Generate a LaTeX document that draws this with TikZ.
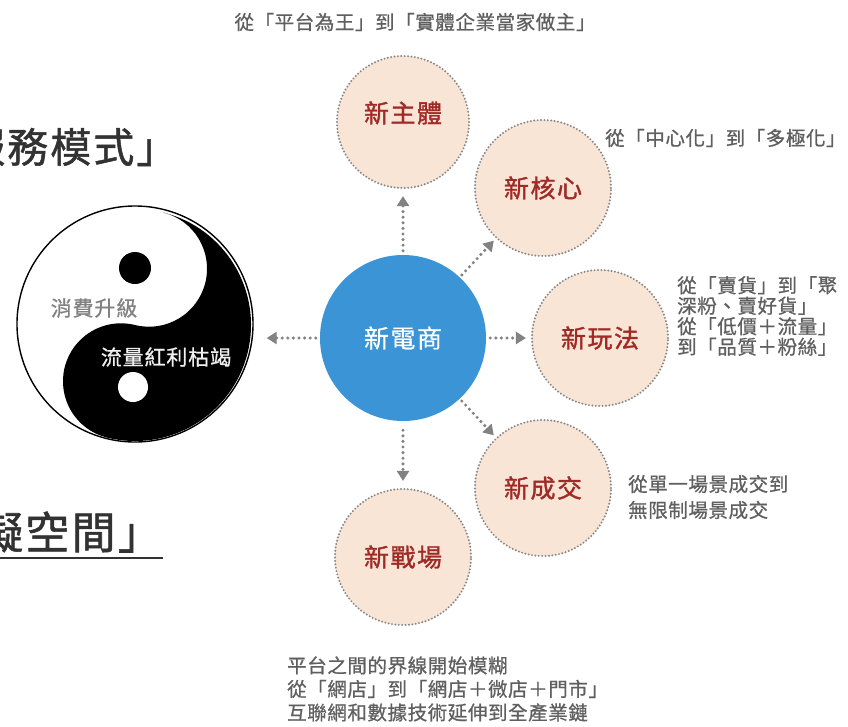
\documentclass[tikz,border=0pt]{standalone}
\usepackage{fontspec}
\usetikzlibrary{arrows.meta}
\newfontfamily\cjk[LetterSpace=3,FakeBold=0.8]{Noto Sans CJK TC}
\newfontfamily\cjkbig[LetterSpace=5,FakeBold=1.2]{Noto Sans CJK TC}
\newfontfamily\cjklab[LetterSpace=6,FakeBold=1.4]{Noto Sans CJK TC}
\newfontfamily\cjkhub[LetterSpace=6,FakeBold=0.6]{Noto Sans CJK TC}
\newfontfamily\cjkyy[LetterSpace=4,FakeBold=0.8]{Noto Sans CJK TC}
\definecolor{peach}{RGB}{249,229,214}
\definecolor{blueC}{RGB}{58,148,214}
\definecolor{dotgray}{RGB}{135,135,135}
\definecolor{arrgray}{RGB}{130,130,130}
\definecolor{labred}{RGB}{160,42,38}
\definecolor{txtgray}{RGB}{95,95,95}
\definecolor{bigtxt}{RGB}{50,50,50}
\definecolor{yygray}{RGB}{130,130,130}
\begin{document}
\begin{tikzpicture}[x=1pt,y=1pt,
  bubble/.style={circle, fill=peach, draw=dotgray, line width=2.2pt,
    dash pattern=on 0pt off 3.4pt, line cap=round, minimum size=136pt,
    inner sep=0pt, text=labred, font={\cjklab\fontsize{25}{28}\selectfont}},
  hub/.style={circle, fill=blueC, minimum size=166pt, inner sep=0pt,
    text=white, font={\cjkhub\fontsize{25}{28}\selectfont}},
  arr/.style={draw=arrgray, line width=3.4pt, dash pattern=on 0pt off 5.6pt,
    line cap=round, -{Triangle[length=10pt,width=12pt]}},
  desc/.style={text=txtgray, align=left, inner sep=0pt,
    font={\cjk\fontsize{19.5}{20.5}\selectfont}},
  bigtext/.style={text=bigtxt, inner sep=0pt, anchor=west},
  yytext/.style={inner sep=0pt, font={\cjkyy\fontsize{21}{24}\selectfont}}
]
\path[use as bounding box, fill=white] (0,0) rectangle (848,-726);

% yin-yang
\begin{scope}[shift={(135,-325)}, rotate=-14]
  \fill[black] (0,116) arc[start angle=90,end angle=-90,radius=116]
    arc[start angle=-90,end angle=-270,radius=58]
    arc[start angle=-90,end angle=90,radius=58] -- cycle;
\end{scope}
\node[circle, draw=black, line width=1.4pt, minimum size=236pt, inner sep=0pt] (yy) at (135,-324) {};
\fill[black] (135,-268) circle[radius=16];
\fill[white] (133,-387) circle[radius=15];
\node[yytext, text=yygray] (xf) at (94,-308) {消費升級};
\node[yytext, text=white!94!black] (ll) at (166,-357) {流量紅利枯竭};

% big left texts
\node[bigtext, font={\cjkbig\fontsize{41}{46}\selectfont}] (fw) at (-36,-147) {服務模式」};
\node[bigtext, font={\cjkbig\fontsize{44}{50}\selectfont}] (kj) at (-21,-532) {擬空間」};
\draw[draw=bigtxt, line width=2pt] (0,-558) -- (163,-558);

% circles
\node[hub] (hub) at (403,-338) {新電商};
\node[bubble, minimum size=132pt] (zhuti) at (403,-122) {};
\node[inner sep=0pt, text=labred, font={\cjklab\fontsize{25}{28}\selectfont}] (zhutilab) at ([yshift=9pt]zhuti.center) {新主體};
\node[bubble] (hexin) at (543,-188) {新核心};
\node[bubble] (wanfa) at (600,-338) {新玩法};
\node[bubble] (chengjiao) at (543,-488) {新成交};
\node[bubble] (zhanchang) at (403,-557) {新戰場};

% arrows
\draw[arr, shorten <=4pt, shorten >=7pt] (hub) -- (zhuti);
\draw[arr, shorten <=3pt, shorten >=3pt] (hub) -- (hexin);
\draw[arr, shorten <=4pt, shorten >=5pt] (hub) -- (wanfa);
\draw[arr, shorten <=3pt, shorten >=3pt] (hub) -- (chengjiao);
\draw[arr, shorten <=9pt, shorten >=7pt] (hub) -- (zhanchang);
\draw[arr, shorten <=4pt, shorten >=13pt] (hub.west) -- (hub.west -| yy.east);

% descriptions
\node[desc] (d1) at (415,-22) {從「平台為王」到「實體企業當家做主」};
\node[desc, anchor=west] (d2) at (605,-138) {從「中心化」到「多極化」};
\node[desc, anchor=west] (d3) at (677,-316) {從「賣貨」到「聚\\深粉、賣好貨」\\從「低價＋流量」\\到「品質＋粉絲」};
\node[desc, anchor=west, font={\cjk\fontsize{19.5}{26}\selectfont}] (d4) at (628,-497) {從單一場景成交到\\無限制場景成交};
\node[desc, anchor=west, font={\cjk\fontsize{19.5}{23.5}\selectfont}] (d5) at (287,-689) {平台之間的界線開始模糊\\從「網店」到「網店＋微店＋門市」\\互聯網和數據技術延伸到全產業鏈};
\end{tikzpicture}
\end{document}
